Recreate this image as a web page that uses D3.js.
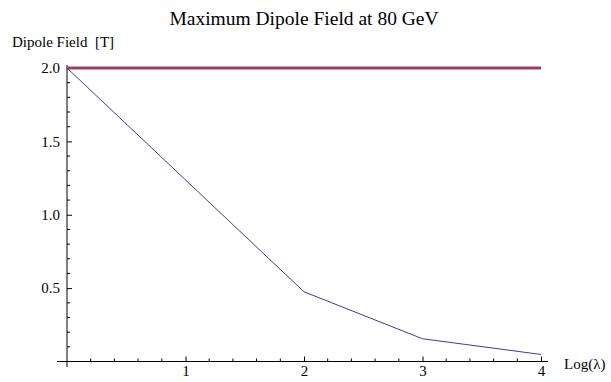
<!DOCTYPE html>
<meta charset="utf-8">
<script src="https://d3js.org/d3.v7.min.js"></script>
<style>
  body { margin: 0; background: #fff; }
  svg text { font-family: "Liberation Serif", "Times New Roman", serif; fill: #000; white-space: pre; }
</style>
<div id="my_dataviz"></div>
<script>

    // values
    var logLambda = [0, 2, 3, 4];
    var dipoleField = [2.0, 0.475, 0.155, 0.048];
    var limitX = [0, 4];
    var limitField = [2.0, 2.0];
    var xTicks = [1, 2, 3, 4];
    var yTicks = [0.5, 1.0, 1.5, 2.0];

    var width = 611, height = 382;
    var serif = "Liberation Serif, Times New Roman, serif";

    var svg = d3.select("#my_dataviz")
        .append("svg")
        .attr("width", width)
        .attr("height", height);

    var x = d3.scaleLinear().domain([0, 4]).range([67, 541]);
    var y = d3.scaleLinear().domain([0, 2]).range([361.5, 68]);

    // minor ticks
    var xMinor = d3.range(0, 4.001, 0.2).filter(function (d) { return Math.abs(d - Math.round(d)) > 1e-6; });
    var yMinor = d3.range(0.1, 2.05, 0.1).filter(function (d) { return Math.abs(d * 2 - Math.round(d * 2)) > 1e-6; });

    // X axis
    var gx = svg.append("g").attr("transform", "translate(0," + y(0) + ")");
    gx.call(d3.axisBottom(x).tickValues(xTicks).tickSize(-5).tickPadding(4)
        .tickFormat(d3.format("d")));
    gx.attr("font-family", serif).attr("font-size", 15);
    gx.select(".domain").remove();
    gx.append("line").attr("x1", 57).attr("x2", 548).attr("stroke", "#000");
    gx.selectAll(".minor").data(xMinor).enter().append("line")
        .attr("x1", function (d) { return x(d); })
        .attr("x2", function (d) { return x(d); })
        .attr("y1", 0).attr("y2", -3)
        .attr("stroke", "#000");
    gx.selectAll(".tick text").attr("dy", "0.72em");

    // Y axis
    var gy = svg.append("g").attr("transform", "translate(" + x(0) + ",0)");
    gy.call(d3.axisLeft(y).tickValues(yTicks).tickSize(-5).tickPadding(7)
        .tickFormat(d3.format(".1f")));
    gy.attr("font-family", serif).attr("font-size", 15);
    gy.select(".domain").remove();
    gy.append("line").attr("y1", 65).attr("y2", 367).attr("stroke", "#000");
    gy.selectAll(".minor").data(yMinor).enter().append("line")
        .attr("y1", function (d) { return y(d); })
        .attr("y2", function (d) { return y(d); })
        .attr("x1", 0).attr("x2", 3)
        .attr("stroke", "#000");

    // limit line
    svg.append("path")
        .datum(d3.zip(limitX, limitField))
        .attr("fill", "none")
        .attr("stroke", "#993d71")
        .attr("stroke-width", 3)
        .attr("d", d3.line()
            .x(function (d) { return x(d[0]); })
            .y(function (d) { return y(d[1]); }));

    // dipole field curve
    svg.append("path")
        .datum(d3.zip(logLambda, dipoleField))
        .attr("fill", "none")
        .attr("stroke", "#3d3d99")
        .attr("stroke-width", 1)
        .attr("d", d3.line()
            .x(function (d) { return x(d[0]); })
            .y(function (d) { return y(d[1]); }));

    // labels
    svg.append("text")
        .attr("x", 304).attr("y", 25)
        .attr("text-anchor", "middle")
        .style("font-size", "19.5px")
        .text("Maximum Dipole Field at 80 GeV");

    svg.append("text")
        .attr("x", 12).attr("y", 47)
        .style("font-size", "15px")
        .text("Dipole Field  [T]");

    svg.append("text")
        .attr("x", 564).attr("y", 369)
        .style("font-size", "15px")
        .text("Log(λ)");

</script>
